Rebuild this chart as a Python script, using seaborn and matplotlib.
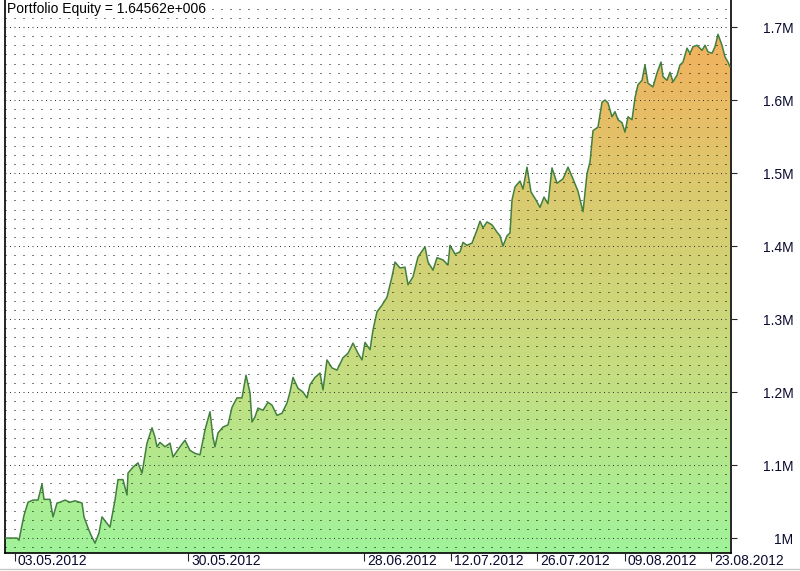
import numpy as np
import matplotlib
matplotlib.use("Agg")
import matplotlib.pyplot as plt
import seaborn as sns
from matplotlib.colors import LinearSegmentedColormap
from matplotlib.ticker import MultipleLocator, FixedLocator
from matplotlib.transforms import ScaledTranslation
from matplotlib.lines import Line2D

# ----------- data (equity in thousands) -----------
bars = [0, 5, 12, 14, 16, 19, 23, 28, 33, 37,
        39, 45, 48, 52, 55, 60, 65, 70, 77, 79,
        83, 86, 90, 94, 97, 102, 105, 110, 113, 118,
        122, 123, 128, 133, 137, 142, 147, 150, 152, 155,
        160, 165, 168, 175, 180, 185, 190, 195, 200, 205,
        208, 210, 213, 218, 223, 227, 232, 237, 241, 245,
        247, 250, 253, 258, 263, 267, 272, 277, 282, 285,
        288, 293, 298, 302, 305, 310, 315, 318, 322, 327,
        332, 338, 343, 348, 353, 357, 360, 365, 368, 372,
        377, 382, 387, 390, 395, 400, 403, 408, 413, 420,
        423, 428, 432, 438, 443, 445, 450, 455, 458, 462,
        467, 472, 475, 478, 482, 487, 492, 495, 498, 502,
        505, 507, 510, 515, 518, 522, 526, 531, 535, 539,
        543, 547, 552, 558, 563, 568, 573, 578, 582, 585,
        588, 593, 597, 600, 603, 607, 610, 613, 617, 620,
        623, 627, 630, 633, 637, 640, 643, 648, 652, 656,
        658, 662, 665, 668, 672, 675, 678, 682, 685, 688,
        692, 697, 700, 703, 707, 710, 713, 717, 720, 723,
        725]

equity_k = [1000, 1000, 1000, 997, 1011, 1031, 1049, 1052, 1052, 1074,
            1053, 1053, 1029, 1048, 1049, 1052, 1049, 1051, 1048, 1029,
            1014, 1004, 993, 1007, 1029, 1020, 1015, 1052, 1080, 1080,
            1059, 1089, 1097, 1103, 1089, 1130, 1151, 1138, 1125, 1131,
            1125, 1130, 1111, 1125, 1134, 1120, 1116, 1114, 1148, 1173,
            1138, 1125, 1144, 1152, 1155, 1179, 1192, 1192, 1223, 1199,
            1159, 1166, 1178, 1175, 1186, 1182, 1168, 1171, 1185, 1200,
            1220, 1205, 1200, 1192, 1210, 1220, 1226, 1203, 1244, 1233,
            1230, 1247, 1253, 1267, 1253, 1244, 1268, 1258, 1285, 1310,
            1319, 1330, 1358, 1378, 1370, 1371, 1347, 1358, 1385, 1399,
            1378, 1367, 1384, 1381, 1374, 1401, 1389, 1392, 1405, 1401,
            1404, 1422, 1434, 1425, 1433, 1429, 1419, 1414, 1400, 1414,
            1418, 1463, 1481, 1489, 1478, 1508, 1474, 1463, 1453, 1467,
            1458, 1507, 1486, 1492, 1508, 1492, 1475, 1447, 1499, 1515,
            1558, 1563, 1597, 1600, 1596, 1577, 1584, 1573, 1569, 1556,
            1577, 1573, 1603, 1621, 1627, 1648, 1623, 1618, 1637, 1652,
            1632, 1627, 1638, 1625, 1634, 1648, 1652, 1671, 1664, 1673,
            1675, 1668, 1675, 1666, 1664, 1673, 1690, 1675, 1659, 1652,
            1645.62]

date_ticks = [10, 183, 359, 446, 532, 620, 706]
date_labels = ["03.05.2012", "30.05.2012", "28.06.2012", "12.07.2012",
               "26.07.2012", "09.08.2012", "23.08.2012"]

y_ticks = [1000, 1100, 1200, 1300, 1400, 1500, 1600, 1700]
y_labels = ["1M", "1.1M", "1.2M", "1.3M", "1.4M", "1.5M", "1.6M", "1.7M"]

title = "Portfolio Equity = 1.64562e+006"

# ----------- style -----------
sns.set_style("white")
plt.rcParams['font.family'] = ['Liberation Sans', 'DejaVu Sans']

fig = plt.figure(figsize=(8, 5.71), dpi=100)
ax = fig.add_axes([5 / 800, 18 / 571, 726 / 800, 553 / 571])

x_min, x_max = 0, 726
y_min, y_max = 979.5, 1737

# gradient fill under the curve
fill = ax.fill_between(bars, equity_k, y_min, facecolor='none', edgecolor='none')
cmap = LinearSegmentedColormap.from_list(
    "eq", ["#a0f39a", "#c6dd80", "#dcc96e", "#f8ab5a"])
grad = np.linspace(0, 1, 256).reshape(-1, 1)
im = ax.imshow(grad, extent=[x_min, x_max, y_min, y_max], aspect='auto',
               origin='lower', cmap=cmap, zorder=1)
im.set_clip_path(fill.get_paths()[0], transform=ax.transData)

df = {"bar": bars, "equity": equity_k}
sns.lineplot(x="bar", y="equity", data=df, ax=ax, color="#41803f",
             linewidth=1.1, zorder=3)

ax.set_xlim(x_min, x_max)
ax.set_ylim(y_min, y_max)
ax.set_xlabel("")
ax.set_ylabel("")

# dotted grid
ax.yaxis.set_major_locator(FixedLocator(y_ticks))
ax.yaxis.set_minor_locator(MultipleLocator(12.5))
ax.set_axisbelow(False)
ax.grid(which='minor', axis='y', color='black', linewidth=0.72,
        linestyle=(0, (1, 8)))
ax.grid(which='major', axis='y', color='#333333', linewidth=0.72,
        linestyle=(0, (1, 3.5)))
ax.grid(which='both', axis='x', visible=False)

# spines
ax.spines['top'].set_visible(False)
for s in ['left', 'right', 'bottom']:
    ax.spines[s].set_color('black')
    ax.spines[s].set_linewidth(1.2)

# right axis labels
ax.yaxis.tick_right()
ax.set_yticks(y_ticks)
ax.set_yticklabels(y_labels)
ax.tick_params(axis='y', which='major', direction='out', length=4, width=0.8,
               pad=41, labelsize=10, labelcolor='#0a0a30', right=True, left=False)
ax.tick_params(axis='y', which='minor', length=0)
for lab in ax.get_yticklabels():
    lab.set_ha('right')

# bottom date labels
ax.set_xticks(date_ticks)
ax.set_xticklabels(date_labels)
ax.tick_params(axis='x', direction='out', length=6, width=0.8, pad=-5,
               labelsize=10, labelcolor='#0a0a30', bottom=True)
offset = ScaledTranslation(0.03, 0, fig.dpi_scale_trans)
for lab in ax.get_xticklabels():
    lab.set_ha('left')
    lab.set_transform(lab.get_transform() + offset)

ax.text(0.003, 0.997, title, transform=ax.transAxes, ha='left', va='top',
        fontsize=10, color='black', zorder=5,
        bbox=dict(facecolor='white', edgecolor='none', pad=1))

fig.add_artist(Line2D([0, 1], [0.003, 0.003], transform=fig.transFigure,
                      color='#c8c8c8', linewidth=1))

fig.savefig("out.png", dpi=100)
